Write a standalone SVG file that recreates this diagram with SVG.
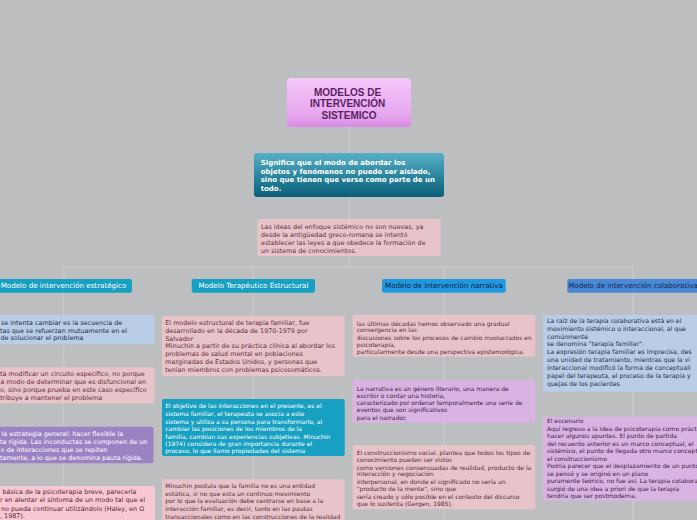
<svg xmlns="http://www.w3.org/2000/svg" width="697" height="520" viewBox="0 0 697 520">
<defs>
<linearGradient id="gTitle" x1="0" y1="0" x2="0" y2="1">
<stop offset="0" stop-color="#f7c8fb"/><stop offset="0.75" stop-color="#e7a6ee"/><stop offset="1" stop-color="#d98be4"/>
</linearGradient>
<linearGradient id="gSub" x1="0" y1="0" x2="0" y2="1">
<stop offset="0" stop-color="#58b0c6"/><stop offset="0.6" stop-color="#257f98"/><stop offset="1" stop-color="#0d5e77"/>
</linearGradient>
<style>
.bg{fill:#bdbec0}
.ln{stroke:#c7c8ca;stroke-width:1.5;fill:none}
.t{font-family:"DejaVu Sans",Verdana,sans-serif}
.pink{fill:#e6c4c9}
.lblue{fill:#b9cde6}
.purp{fill:#9b82c2}
.lpink{fill:#f7c7d3}
.teal{fill:#17a0c2}
.lav{fill:#d9b4e3}
.txPink{fill:#6b2c3c;font-size:6.4px}
.txPink6{fill:#5e2a3a;font-size:6px}
.txBlue{fill:#1e2e4e;font-size:6.4px}
.txWhite{fill:#ffffff;font-size:6.4px}
.txWhite6{fill:#ffffff;font-size:6px}
.txLav{fill:#3c2044;font-size:6px}
.hdr{font-size:7.1px}
</style>
</defs>
<rect class="bg" x="0" y="0" width="697" height="520"/>

<g id="connectors">
<line class="ln" x1="349" y1="127" x2="349" y2="267"/>
<line class="ln" x1="63.5" y1="267" x2="633" y2="267"/>
<line class="ln" x1="63.5" y1="267" x2="63.5" y2="520"/>
<line class="ln" x1="253" y1="267" x2="253" y2="520"/>
<line class="ln" x1="444" y1="267" x2="444" y2="520"/>
<line class="ln" x1="633" y1="267" x2="633" y2="520"/>
</g>

<g id="title">
<rect x="287" y="78" width="124" height="49" rx="4" fill="url(#gTitle)"/>
<text class="t" x="349" text-anchor="middle" style="font-family:'Liberation Sans',Arial,sans-serif;font-weight:bold;font-size:10px" fill="#5b1f63">
<tspan x="349" y="95.6">MODELOS DE</tspan>
<tspan x="349" y="107.2">INTERVENCIÓN</tspan>
<tspan x="349" y="118.8">SISTEMICO</tspan>
</text>
</g>

<g id="significa">
<rect x="254" y="153" width="190" height="44" rx="3" fill="url(#gSub)"/>
<text class="t" style="font-weight:bold;font-size:7px" fill="#ffffff">
<tspan x="260.7" y="164.8">Significa que el modo de abordar los</tspan>
<tspan x="260.7" y="173.5">objetos y fenómenos no puede ser aislado,</tspan>
<tspan x="260.7" y="182.2">sino que tienen que verse como parte de un</tspan>
<tspan x="260.7" y="190.9">todo.</tspan>
</text>
</g>

<g id="ideas">
<rect class="pink" x="257.3" y="219" width="183.4" height="37" rx="2"/>
<text class="t txPink">
<tspan x="261" y="229">Las ideas del enfoque sistémico no son nuevas, ya</tspan>
<tspan x="261" y="237">desde la antigüedad greco-romana se intentó</tspan>
<tspan x="261" y="245">establecer las leyes a que obedece la formación de</tspan>
<tspan x="261" y="252.8">un sistema de conocimientos.</tspan>
</text>
</g>

<g id="h-estrategico">
<rect class="teal" x="-5" y="279" width="137" height="13.7" rx="2"/>
<text class="t hdr" x="63.5" y="288.4" text-anchor="middle" fill="#ffffff">Modelo de intervención estratégico</text>
</g>
<g id="h-estructural">
<rect class="teal" x="191.7" y="279" width="123.3" height="13.7" rx="2"/>
<text class="t hdr" x="253.4" y="288.4" text-anchor="middle" fill="#ffffff">Modelo Terapéutico Estructural</text>
</g>
<g id="h-narrativa">
<rect x="382" y="279" width="123.7" height="13.7" rx="2" fill="#1f98e0"/>
<text class="t hdr" x="444" y="288.4" text-anchor="middle" fill="#0d1f3d">Modelo de intervención narrativa</text>
</g>
<g id="h-colaborativa">
<rect x="567.3" y="279" width="132" height="13.7" rx="2" fill="#4a88d8"/>
<text class="t hdr" x="633" y="288.4" text-anchor="middle" fill="#142545">Modelo de intervención colaborativa</text>
</g>

<g id="e1">
<rect class="lblue" x="-28" y="315" width="182.5" height="29.3" rx="2"/>
<text class="t txBlue">
<tspan x="1" y="325">se intenta cambiar es la secuencia de</tspan>
<tspan x="0" y="332.6">tas que se refuerzan mutuamente en el</tspan>
<tspan x="0.5" y="340.3">de solucionar el problema</tspan>
</text>
</g>
<g id="e2">
<rect class="pink" x="-28" y="367.3" width="182.5" height="36" rx="2"/>
<text class="t txPink">
<tspan x="0" y="375.6">ta modificar un circuito específico, no porque</tspan>
<tspan x="0.5" y="383.6">a modo de determinar que es disfuncional en</tspan>
<tspan x="0" y="391.8">o, sino porque prueba en este caso específico</tspan>
<tspan x="0" y="399.8">tribuye a mantener el problema</tspan>
</text>
</g>
<g id="e3">
<rect class="purp" x="-28" y="426.7" width="181.5" height="36.6" rx="2"/>
<text class="t txWhite">
<tspan x="1.5" y="436.3">la estrategia general: hacer flexible la</tspan>
<tspan x="0" y="444.3">ta rígida. Las inconductas se componen de un</tspan>
<tspan x="0.5" y="452.3">o de interacciones que se repiten</tspan>
<tspan x="0" y="460">tamente, a lo que se denomina pauta rígida.</tspan>
</text>
</g>
<g id="e4">
<rect class="lpink" x="-28" y="486" width="183" height="40" rx="2"/>
<text class="t txPink" style="fill:#5a1f30">
<tspan x="2.5" y="494">básica de la psicoterapia breve, parecería</tspan>
<tspan x="0" y="502.3">r en alentar el síntoma de un modo tal que el</tspan>
<tspan x="1" y="510.5">no pueda continuar utilizándolo (Haley, en O</tspan>
<tspan x="0" y="518">, 1987).</tspan>
</text>
</g>

<g id="s1">
<rect class="pink" x="162" y="315.7" width="182.7" height="60.3" rx="2"/>
<text class="t txPink">
<tspan x="165.3" y="325">El modelo estructural de terapia familiar, fue</tspan>
<tspan x="165.3" y="332.9">desarrollado en la década de 1970-1979 por</tspan>
<tspan x="165.3" y="340.7">Salvador</tspan>
<tspan x="165.3" y="348.4">Minuchin a partir de su práctica clínica al abordar los</tspan>
<tspan x="165.3" y="356.1">problemas de salud mental en poblaciones</tspan>
<tspan x="165.3" y="364">marginadas de Estados Unidos, y personas que</tspan>
<tspan x="165.3" y="372.2">tenían miembros con problemas psicosomáticos.</tspan>
</text>
</g>
<g id="s2">
<rect class="teal" x="162" y="399" width="182.7" height="57" rx="2"/>
<text class="t txWhite6">
<tspan x="165.3" y="408.2">El objetivo de las interacciones en el presente, es el</tspan>
<tspan x="165.3" y="415.9">sistema familiar, el terapeuta se asocia a este</tspan>
<tspan x="165.3" y="423.5">sistema y utiliza a su persona para transformarlo, al</tspan>
<tspan x="165.3" y="430.9">cambiar las posiciones de los miembros de la</tspan>
<tspan x="165.3" y="438.5">familia, cambian sus experiencias subjetivas. Minuchin</tspan>
<tspan x="165.3" y="445.9">(1974) considera de gran importancia durante el</tspan>
<tspan x="165.3" y="453.2">proceso, lo que llamo propiedades del sistema</tspan>
</text>
</g>
<g id="s3">
<rect class="pink" x="162" y="479.3" width="182.7" height="46" rx="2"/>
<text class="t txPink6">
<tspan x="165.3" y="488">Minuchin postula que la familia no es una entidad</tspan>
<tspan x="165.3" y="495.5">estática, si no que esta un continuo movimiento</tspan>
<tspan x="165.3" y="503.3">por lo que la evaluación debe centrarse en base a la</tspan>
<tspan x="165.3" y="511">interacción familiar, es decir, tanto en las pautas</tspan>
<tspan x="165.3" y="518.6">transaccionales como en las construcciones de la realidad</tspan>
</text>
</g>

<g id="n1">
<rect class="pink" x="352.7" y="315" width="182.6" height="41.7" rx="2"/>
<text class="t txPink6">
<tspan x="356.7" y="325.5">las últimas décadas hemos observado una gradual</tspan>
<tspan x="356.7" y="332.3">convergencia en las</tspan>
<tspan x="356.7" y="339.6">discusiones sobre los procesos de cambio involucrados en</tspan>
<tspan x="356.7" y="346.9">psicoterapia,</tspan>
<tspan x="356.7" y="354.2">particularmente desde una perspectiva epistemológica.</tspan>
</text>
</g>
<g id="n2">
<rect class="lav" x="352.7" y="380" width="182.6" height="42.7" rx="2"/>
<text class="t txLav">
<tspan x="356.7" y="390.5">La narrativa es un género literario, una manera de</tspan>
<tspan x="356.7" y="397.5">escribir o contar una historia,</tspan>
<tspan x="356.7" y="405.2">caracterizado por ordenar temporalmente una serie de</tspan>
<tspan x="356.7" y="412.2">eventos que son significativos</tspan>
<tspan x="356.7" y="419.5">para el narrador.</tspan>
</text>
</g>
<g id="n3">
<rect class="pink" x="352.7" y="445" width="182.6" height="64.3" rx="2"/>
<text class="t txPink6">
<tspan x="356.7" y="454.5">El construccionismo social. plantea que todos los tipos de</tspan>
<tspan x="356.7" y="461.6">conocimiento pueden ser vistos</tspan>
<tspan x="356.7" y="469.5">como versiones consensuadas de realidad, producto de la</tspan>
<tspan x="356.7" y="476.3">interacción y negociación</tspan>
<tspan x="356.7" y="484.2">interpersonal, en donde el significado no sería un</tspan>
<tspan x="356.7" y="491.3">"producto de la mente", sino que</tspan>
<tspan x="356.7" y="499.2">sería creado y sólo posible en el contexto del discurso</tspan>
<tspan x="356.7" y="506.3">que lo sustenta (Gergen, 1985).</tspan>
</text>
</g>

<g id="c1">
<rect class="lblue" x="543" y="315" width="183" height="76.7" rx="2"/>
<text class="t txBlue" style="font-size:6.2px">
<tspan x="547" y="323.3">La raíz de la terapia colaborativa está en el</tspan>
<tspan x="547" y="331">movimiento sistémico o interaccional, al que</tspan>
<tspan x="547" y="339">comúnmente</tspan>
<tspan x="547" y="346.4">se denomina "terapia familiar".</tspan>
<tspan x="547" y="354.3">La expresión terapia familiar es imprecisa, des</tspan>
<tspan x="547" y="362">una unidad de tratamiento, mientras que la vi</tspan>
<tspan x="547" y="370">interaccional modificó la forma de conceptuali</tspan>
<tspan x="547" y="377.6">papel del terapeuta, el proceso de la terapia y</tspan>
<tspan x="547" y="385.6">quejas de los pacientes.</tspan>
</text>
</g>
<g id="c2">
<rect class="lav" x="543" y="416.7" width="183" height="84" rx="2"/>
<text class="t txLav">
<tspan x="547" y="423">El escenario</tspan>
<tspan x="547" y="430.6">Aquí regreso a la idea de psicoterapia como práct</tspan>
<tspan x="547" y="438">hacer algunos apuntes. El punto de partida</tspan>
<tspan x="547" y="445.6">del recuento anterior es un marco conceptual, el</tspan>
<tspan x="547" y="453">sistémico, el punto de llegada otro marco concept</tspan>
<tspan x="547" y="460.6">el construccionismo</tspan>
<tspan x="547" y="468">Podría parecer que el desplazamiento de un punto</tspan>
<tspan x="547" y="475.6">se pensó y se originó en un plano</tspan>
<tspan x="547" y="483">puramente teórico, no fue así. La terapia colabora</tspan>
<tspan x="547" y="490.6">surgió de una idea a priori de que la terapia</tspan>
<tspan x="547" y="498">tendría que ser postmoderna.</tspan>
</text>
</g>
</svg>
